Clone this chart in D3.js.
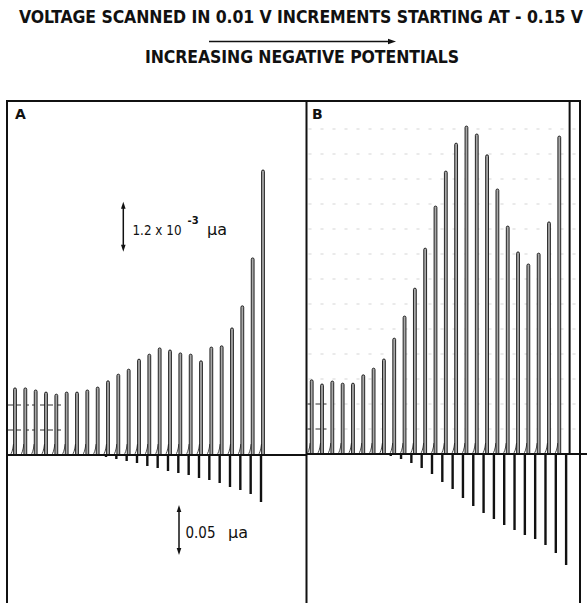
<!DOCTYPE html>
<html>
<head>
<meta charset="utf-8">
<script src="https://cdn.jsdelivr.net/npm/d3@7/dist/d3.min.js"></script>
<style>
  html, body { margin: 0; padding: 0; background: #fff; }
  svg { display: block; }
  text { font-family: "DejaVu Sans", "Liberation Sans", sans-serif; fill: #111; }
  text.lettering { font-family: "Liberation Sans Narrow", "DejaVu Sans Condensed", "Liberation Sans", sans-serif; }
</style>
</head>
<body>
<script>
// Potential steps (V): scan starts at -0.15 V and moves 0.01 V per pulse.
const stepVolts = [-0.15, -0.16, -0.17, -0.18, -0.19, -0.20, -0.21, -0.22, -0.23,
                   -0.24, -0.25, -0.26, -0.27, -0.28, -0.29, -0.30, -0.31, -0.32,
                   -0.33, -0.34, -0.35, -0.36, -0.37, -0.38, -0.39, -0.40];

// Upward (charging) peaks, in units of 1e-3 µa.
const peaksA = [1.61, 1.61, 1.56, 1.51, 1.46, 1.51, 1.51, 1.56, 1.63, 1.78,
                1.94, 2.06, 2.30, 2.42, 2.57, 2.52, 2.45, 2.42, 2.26, 2.59,
                2.62, 3.05, 3.58, 4.73, 6.84];
const peaksB = [1.78, 1.68, 1.75, 1.70, 1.70, 1.90, 2.06, 2.28, 2.78, 3.31,
                3.98, 4.94, 5.95, 6.79, 7.46, 7.87, 7.68, 7.18, 6.36, 5.47,
                4.85, 4.56, 4.82, 5.57, 7.63, null]; // last pulse runs off scale

// Downward (faradaic) deflections, in µa.
const dipsA = [0, 0, 0, 0, 0, 0, 0, 0, 0.001, 0.002,
               0.004, 0.006, 0.008, 0.011, 0.013, 0.016, 0.018, 0.020, 0.023, 0.025,
               0.028, 0.032, 0.035, 0.039, 0.047];
const dipsB = [0, 0, 0, 0, 0, 0, 0, 0.001, 0.002, 0.005,
               0.009, 0.014, 0.020, 0.028, 0.035, 0.044, 0.052, 0.059, 0.065, 0.071,
               0.076, 0.081, 0.085, 0.091, 0.099, 0.111];

const panelLabels = ["A", "B"];
const titleText = "VOLTAGE SCANNED IN 0.01 V INCREMENTS STARTING AT - 0.15 V";
const directionText = "INCREASING NEGATIVE POTENTIALS";
const upScaleValue = 1.2;     // 1.2 x 10^-3 µa
const downScaleValue = 0.05;  // 0.05 µa

const W = 587, H = 603;
const svg = d3.select("body").append("svg").attr("width", W).attr("height", H);

const frameTop = 101, frameLeft = 7, frameMid = 306.5, frameRight = 580;

// amplitude scales (pixels per unit)
const yUp = d3.scaleLinear().domain([0, upScaleValue]).range([0, 50]);
const yDown = d3.scaleLinear().domain([0, downScaleValue]).range([0, 50]);

const panels = [
  { label: panelLabels[0], peaks: peaksA, dips: dipsA, base: 455, negShift: -2,
    left: frameLeft, right: frameMid, labelX: 15, labelY: 119, fullGrid: false,
    x: d3.scaleLinear().domain([stepVolts[0], stepVolts[24]]).range([15, 263]) },
  { label: panelLabels[1], peaks: peaksB, dips: dipsB, base: 454, negShift: -3.5,
    left: frameMid, right: frameRight, labelX: 312, labelY: 118.5, fullGrid: true,
    x: d3.scaleLinear().domain([stepVolts[0], stepVolts[24]]).range([311.7, 559.3]) }
];

// ---- titles ----
svg.append("text").attr("class", "lettering").attr("x", 19).attr("y", 23)
  .attr("font-size", 17.5).attr("font-weight", "bold")
  .attr("textLength", 564).attr("lengthAdjust", "spacing")
  .text(titleText);

svg.append("line").attr("x1", 209).attr("x2", 392).attr("y1", 41.5).attr("y2", 41.5)
  .attr("stroke", "#111").attr("stroke-width", 1.5);
svg.append("path").attr("d", "M396,41.5 L388,38.8 L388,44.2 Z").attr("fill", "#111");

svg.append("text").attr("class", "lettering").attr("x", 145).attr("y", 63)
  .attr("font-size", 17.5).attr("font-weight", "bold")
  .attr("textLength", 314).attr("lengthAdjust", "spacing")
  .text(directionText);

// ---- recorder grid ----
const grid = svg.append("g").attr("class", "grid");
panels.forEach(p => {
  const levels = d3.range(1, 14).map(k => k * 0.6); // grid every 0.6e-3 µa
  if (p.fullGrid) {
    grid.selectAll(null).data(levels).enter().append("line")
      .attr("x1", p.left + 2).attr("x2", p.right - 4)
      .attr("y1", d => p.base - yUp(d)).attr("y2", d => p.base - yUp(d))
      .attr("stroke", "#9a9a9a").attr("stroke-width", 0.8)
      .attr("stroke-dasharray", "3,9").attr("opacity", 0.5);
  }
  grid.selectAll(null).data(levels.slice(0, 2)).enter().append("line")
    .attr("x1", p.left + 1).attr("x2", p.left + (p.fullGrid ? 20 : 55))
    .attr("y1", d => p.base - yUp(d)).attr("y2", d => p.base - yUp(d))
    .attr("stroke", "#333").attr("stroke-width", 1)
    .attr("stroke-dasharray", "5,3");
});

// ---- frame ----
const frame = svg.append("g").attr("stroke", "#111").attr("stroke-width", 2).attr("fill", "none");
frame.append("line").attr("x1", frameLeft - 1).attr("x2", frameRight + 1).attr("y1", frameTop).attr("y2", frameTop);
[frameLeft, frameMid, frameRight].forEach(x =>
  frame.append("line").attr("x1", x).attr("x2", x).attr("y1", frameTop).attr("y2", H));

panels.forEach(p => {
  svg.append("text").attr("x", p.labelX).attr("y", p.labelY)
    .attr("font-size", 14).attr("font-weight", "bold").text(p.label);
});

// ---- pulses ----
panels.forEach(p => {
  const g = svg.append("g");
  const data = p.peaks.map((v, i) => ({ v, dip: p.dips[i], volt: stepVolts[i] }));

  // small lead-in hook at the foot of each pulse
  g.selectAll(null).data(data.filter(d => d.v !== null)).enter().append("path")
    .attr("d", d => {
      const x = p.x(d.volt);
      return `M${x - 5},${p.base} Q${x - 2.5},${p.base - 2} ${x - 1.5},${p.base - 11}`;
    })
    .attr("fill", "none").attr("stroke", "#333").attr("stroke-width", 0.9);

  // downward deflections
  g.selectAll(null).data(data.filter(d => d.dip > 0)).enter().append("line")
    .attr("x1", d => p.x(d.volt) + p.negShift).attr("x2", d => p.x(d.volt) + p.negShift)
    .attr("y1", p.base).attr("y2", d => p.base + yDown(d.dip))
    .attr("stroke", "#111").attr("stroke-width", 2.4);

  // upward peaks drawn as narrow pen loops
  const r = 1.4;
  g.selectAll(null).data(data.filter(d => d.v !== null)).enter().append("path")
    .attr("d", d => {
      const x = p.x(d.volt), top = p.base - yUp(d.v);
      return `M${x - r},${p.base} L${x - r},${top + r} A${r},${r} 0 0 1 ${x + r},${top + r} L${x + r},${p.base}`;
    })
    .attr("fill", "#a8a8a8").attr("stroke", "#111").attr("stroke-width", 0.9);

  // off-scale pulse runs to the top of the chart
  g.selectAll(null).data(data.filter(d => d.v === null)).enter().append("line")
    .attr("x1", d => p.x(d.volt)).attr("x2", d => p.x(d.volt))
    .attr("y1", p.base).attr("y2", frameTop)
    .attr("stroke", "#111").attr("stroke-width", 2);

  // zero line
  svg.append("line").attr("x1", p.left).attr("x2", p.label === "B" ? W : p.right)
    .attr("y1", p.base).attr("y2", p.base)
    .attr("stroke", "#111").attr("stroke-width", 2);
});

// ---- calibration bars ----
function calBar(x, yTop, yBot) {
  const g = svg.append("g");
  g.append("line").attr("x1", x).attr("x2", x).attr("y1", yTop + 4).attr("y2", yBot - 4)
    .attr("stroke", "#111").attr("stroke-width", 1.5);
  g.append("path").attr("d", `M${x},${yTop} L${x - 2.3},${yTop + 7} L${x + 2.3},${yTop + 7} Z`).attr("fill", "#111");
  g.append("path").attr("d", `M${x},${yBot} L${x - 2.3},${yBot - 7} L${x + 2.3},${yBot - 7} Z`).attr("fill", "#111");
}

const upTop = 201.7;
calBar(123.3, upTop, upTop + yUp(upScaleValue));
svg.append("text").attr("x", 132.5).attr("y", 235).attr("font-size", 14)
  .attr("textLength", 49).attr("lengthAdjust", "spacingAndGlyphs").text("1.2 x 10");
svg.append("text").attr("x", 187.5).attr("y", 224).attr("font-size", 10)
  .attr("font-weight", "bold").text("-3");
svg.append("text").attr("x", 207).attr("y", 235).attr("font-size", 16).text("μa");

const downTop = 505;
calBar(179, downTop, downTop + yDown(downScaleValue));
svg.append("text").attr("x", 185.5).attr("y", 537.5).attr("font-size", 15)
  .attr("textLength", 30).attr("lengthAdjust", "spacingAndGlyphs").text("0.05");
svg.append("text").attr("x", 228).attr("y", 537.5).attr("font-size", 16).text("μa");
</script>
</body>
</html>
